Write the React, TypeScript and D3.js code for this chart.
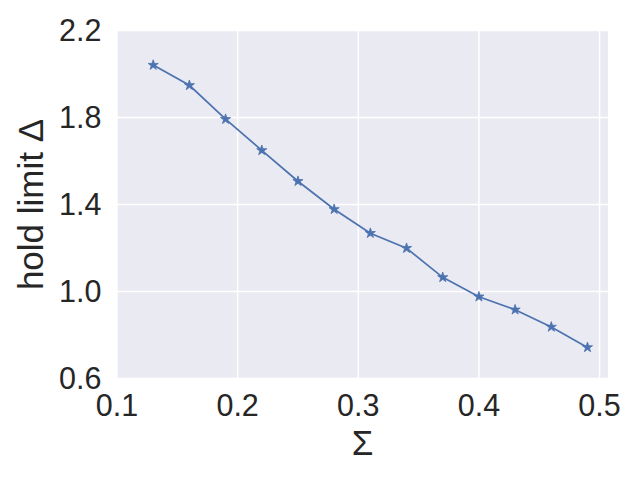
import React from "react";
import * as d3 from "d3";

const sigma = [0.13, 0.16, 0.19, 0.22, 0.25, 0.28, 0.31, 0.34, 0.37, 0.4, 0.43, 0.46, 0.49];
const holdLimit = [2.041, 1.948, 1.792, 1.649, 1.507, 1.378, 1.268, 1.199, 1.065, 0.976, 0.916, 0.837, 0.743];
const xTicks = [0.1, 0.2, 0.3, 0.4, 0.5];
const yTicks = [0.6, 1.0, 1.4, 1.8, 2.2];
const xLabel = "Σ";
const yLabel = "hold limit Δ";

export default function App() {
  const W = 640, H = 480;
  const left = 117, right = 608, top = 30.5, bottom = 378.5;
  const x = d3.scaleLinear().domain([0.1, 0.507]).range([left, right]);
  const y = d3.scaleLinear().domain([0.6, 2.2]).range([bottom, top]);
  const pts = sigma.map((s, i) => [s, holdLimit[i]] as [number, number]);
  const line = d3.line<[number, number]>().x(d => x(d[0])).y(d => y(d[1]));
  const star = d3.symbol().type(d3.symbolStar).size(32)();
  const font = "'Liberation Sans', Arial, sans-serif";
  const color = "#4c72b0";
  return (
    <svg width={W} height={H} style={{ position: "absolute", left: 0, top: 0, background: "#fff" }} fontFamily={font}>
      <rect x={left} y={top} width={right - left} height={bottom - top} fill="#eaeaf2" />
      {xTicks.map(t => (
        <line key={"gx" + t} x1={x(t)} x2={x(t)} y1={top} y2={bottom} stroke="#fff" strokeWidth={1.5} />
      ))}
      {yTicks.map(t => (
        <line key={"gy" + t} x1={left} x2={right} y1={y(t)} y2={y(t)} stroke="#fff" strokeWidth={1.5} />
      ))}
      <path d={line(pts) || ""} fill="none" stroke={color} strokeWidth={1.7} />
      {pts.map((p, i) => (
        <path key={"m" + i} d={star || ""} transform={`translate(${x(p[0])},${y(p[1])})`} fill={color} stroke={color} strokeWidth={0.8} />
      ))}
      {xTicks.map(t => (
        <text key={"tx" + t} x={x(t)} y={416} textAnchor="middle" fontSize={30.5} fill="#262626">{t.toFixed(1)}</text>
      ))}
      {yTicks.map(t => (
        <text key={"ty" + t} x={101.5} y={y(t)} dy="0.35em" textAnchor="end" fontSize={30.5} fill="#262626">{t.toFixed(1)}</text>
      ))}
      <text x={(left + right) / 2} y={455} textAnchor="middle" fontSize={35} fill="#262626">{xLabel}</text>
      <text transform={`translate(43,${(top + bottom) / 2}) rotate(-90)`} textAnchor="middle" fontSize={35} fill="#262626">{yLabel}</text>
    </svg>
  );
}
